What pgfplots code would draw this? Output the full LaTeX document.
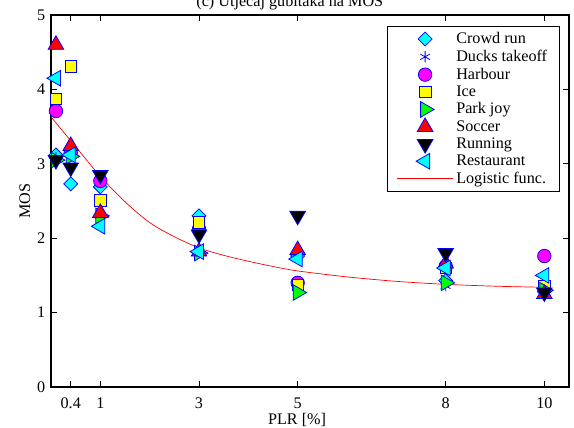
\documentclass[border=0pt]{standalone}
\usepackage{fontspec}
\setmainfont{Liberation Serif}
\usepackage{pgfplots}
\pgfplotsset{compat=1.18}

\definecolor{mcyan}{rgb}{0,1,1}
\definecolor{mmag}{rgb}{1,0,1}
\definecolor{myel}{rgb}{1,1,0}
\definecolor{mgreen}{rgb}{0,1,0}
\definecolor{mblue}{rgb}{0,0,1}
\definecolor{mred}{rgb}{1,0,0}

\pgfplotsset{
  mk/.style={only marks, draw=mblue, line width=0.55pt,
    legend image code/.code={\draw[mark repeat=2,mark phase=2,##1]
      plot coordinates {(0cm,0cm) (0.7cm,0cm) (1.4cm,0cm)};}},
}

\begin{document}
\begin{tikzpicture}
\fontsize{11.5}{13.5}\selectfont
\begin{axis}[
    scale only axis,
    width=12.95cm, height=9.3cm,
    xmin=0, xmax=10.5, ymin=0, ymax=5,
    xtick={0.4,1,3,5,8,10},
    xticklabels={0.4,1,3,5,8,10},
    ytick={0,1,2,3,4,5},
    /pgf/number format/assume math mode=true,
    tick align=inside,
    major tick length=0.15cm,
    axis line style={line width=0.8pt},
    tick style={black, line width=0.6pt},
    tick label style={font=\fontsize{11.5}{13.5}\selectfont},
    xticklabel style={inner sep=0pt, yshift=-0.27cm},
    label style={font=\fontsize{11.5}{13.5}\selectfont},
    xlabel={PLR [\%]},
    ylabel={MOS},
    xlabel style={at={(rel axis cs:0.475,0)}, anchor=center, inner sep=0pt, yshift=-0.83cm},
    ylabel style={yshift=-0.1cm},
    clip=false,
    legend cell align=left,
    legend style={at={(0.983,0.97)}, anchor=north east, draw=black,
      line width=0.6pt, font=\fontsize{11.5}{13.5}\selectfont,
      row sep=-1.1pt, inner xsep=7pt, inner ysep=2pt},
    legend image code/.code={\draw[#1] (0cm,0cm) -- (1.4cm,0cm);},
]
\coordinate (sw) at (rel axis cs:0,0);
\coordinate (ne) at (rel axis cs:1,1);

\addplot[mk, mark=square*, fill=mcyan, mark size=3.5pt, mark options={rotate=45}] coordinates {
  (0.1,3.12) (0.4,2.73) (1,2.69) (3,2.30) (5,1.76) (8,1.43) (10,1.28)};
\addlegendentry{Crowd run}
\addplot[mk, mark=asterisk, mark size=4pt] coordinates {
  (0.1,3.08) (0.4,3.15) (1,2.30) (3,1.85) (5,1.74) (8,1.36) (10,1.28)};
\addlegendentry{Ducks takeoff}
\addplot[mk, mark=*, fill=mmag, mark size=4.8pt] coordinates {
  (0.1,3.71) (0.4,3.15) (1,2.77) (3,2.12) (5,1.40) (8,1.62) (10,1.76)};
\addlegendentry{Harbour}
\addplot[mk, mark=square*, fill=myel, mark size=4.1pt] coordinates {
  (0.1,3.87) (0.4,4.31) (1,2.51) (3,2.21) (5,1.37) (8,1.60) (10,1.36)};
\addlegendentry{Ice}
\addplot[mk, mark=triangle*, fill=mgreen, mark size=6.4pt, mark options={rotate=-90}] coordinates {
  (0.1,3.05) (0.4,3.10) (1,2.30) (3,1.80) (5,1.27) (8,1.40) (10,1.30)};
\addlegendentry{Park joy}
\addplot[mk, mark=triangle*, fill=mred, mark size=6.4pt] coordinates {
  (0.1,4.60) (0.4,3.24) (1,2.34) (3,1.82) (5,1.84) (8,1.66) (10,1.25)};
\addlegendentry{Soccer}
\addplot[mk, mark=triangle*, fill=black, mark size=6.4pt, mark options={rotate=180}] coordinates {
  (0.1,3.05) (0.4,2.95) (1,2.85) (3,2.05) (5,2.30) (8,1.80) (10,1.27)};
\addlegendentry{Running}
\addplot[mk, mark=triangle*, fill=mcyan, mark size=6.4pt, mark options={rotate=90}] coordinates {
  (0.1,4.15) (0.4,3.12) (1,2.16) (3,1.82) (5,1.72) (8,1.60) (10,1.50)};
\addlegendentry{Restaurant}
\addplot[mred, line width=0.5pt, smooth, no marks] coordinates {
  (0,3.63) (0.5,3.23) (1,2.83) (1.5,2.49) (2,2.21) (2.5,2.02) (3,1.87)
  (3.5,1.77) (4,1.69) (4.5,1.62) (5,1.56) (6,1.48) (7,1.42) (8,1.38)
  (9,1.355) (10,1.34)};
\addlegendentry{Logistic func.}

\node[anchor=base] at (rel axis cs:0.461,1) [yshift=0.2cm] {(c) Utjecaj gubitaka na MOS};
\end{axis}
\pgfresetboundingbox
\path[use as bounding box] ([xshift=-1.275cm,yshift=-1.0cm]sw) rectangle ([xshift=0.125cm,yshift=0.375cm]ne);
\end{tikzpicture}
\end{document}
